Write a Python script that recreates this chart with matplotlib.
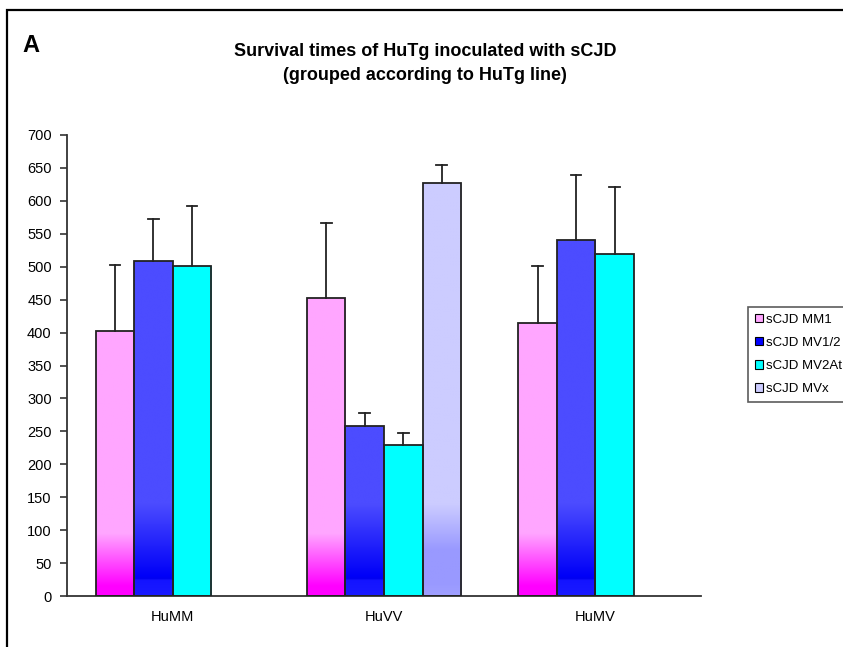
import numpy as np
import matplotlib
matplotlib.use("Agg")
import matplotlib.pyplot as plt
from matplotlib.patches import Rectangle, Patch
from matplotlib.colors import to_rgb

plt.rcParams['font.family'] = ['Liberation Sans', 'DejaVu Sans']

categories = ["HuMM", "HuVV", "HuMV"]
series = ["sCJD MM1", "sCJD MV1/2", "sCJD MV2At", "sCJD MVx"]
means = {
    "sCJD MM1":   [402, 452, 415],
    "sCJD MV1/2": [509, 258, 541],
    "sCJD MV2At": [501, 229, 520],
    "sCJD MVx":   [None, 627, None],
}
err_tops = {
    "sCJD MM1":   [502, 566, 501],
    "sCJD MV1/2": [572, 278, 640],
    "sCJD MV2At": [592, 247, 621],
    "sCJD MVx":   [None, 654, None],
}
yticks = list(range(0, 701, 50))

# vertical gradient stops (value, color), from top to bottom
grad = {
    "sCJD MM1":   [(700, "#FFA6FF"), (95, "#FFA6FF"), (15, "#FF00FF"), (0, "#FF00FF")],
    "sCJD MV1/2": [(700, "#4C4CFF"), (140, "#4C4CFF"), (30, "#0000F8"), (26, "#0000F0"), (24, "#1414FF"), (0, "#1A1AFF")],
    "sCJD MV2At": [(700, "#00FFFF"), (0, "#00FFFF")],
    "sCJD MVx":   [(700, "#CCCCFF"), (140, "#CCCCFF"), (70, "#9999FF"), (20, "#9999FF"), (0, "#A0A0FF")],
}
legend_colors = {"sCJD MM1": "#FFA6FF", "sCJD MV1/2": "#0000FF", "sCJD MV2At": "#00FFFF", "sCJD MVx": "#CCCCFF"}

fig = plt.figure(figsize=(8.43, 6.47), dpi=100)
ax = fig.add_axes([67/843, 1-596/647, (701-67)/843, (596-135)/647])

w = 38.5/211.3
offsets = (np.arange(4) - 1.5) * w
x = np.arange(len(categories))

def grad_image(stops):
    vals = np.linspace(0, 700, 1401)
    sv = [s[0] for s in stops][::-1]
    cols = np.array([to_rgb(s[1]) for s in stops][::-1])
    img = np.zeros((len(vals), 1, 3))
    for c in range(3):
        img[:, 0, c] = np.interp(vals, sv, cols[:, c])
    return img

for i, s in enumerate(series):
    img = grad_image(grad[s])
    for j, cat in enumerate(categories):
        v = means[s][j]
        if v is None:
            continue
        xc = x[j] + offsets[i]
        bar = ax.bar(xc, v, width=w, facecolor="none", edgecolor="#222222", linewidth=1.3, zorder=3)[0]
        im = ax.imshow(img, extent=[xc - w/2, xc + w/2, 0, 700], origin="lower",
                       aspect="auto", zorder=2, interpolation="bilinear")
        im.set_clip_path(bar)
        et = err_tops[s][j]
        ax.plot([xc, xc], [v, et], color="#222222", lw=1.3, zorder=4)
        ax.plot([xc - 0.025, xc + 0.025], [et, et], color="#222222", lw=1.3, zorder=4)

ax.set_xlim(-0.5, 2.5)
ax.set_ylim(0, 700)
ax.set_yticks(yticks)
ax.set_yticklabels([str(t) for t in yticks], fontsize=10.5)
ax.set_xticks(x)
ax.set_xticklabels(categories, fontsize=10.5)
ax.tick_params(axis='x', length=0, pad=10)
ax.tick_params(axis='y', length=5, width=1.2, color="#333333", pad=6)
for sp in ["top", "right"]:
    ax.spines[sp].set_visible(False)
for sp in ["left", "bottom"]:
    ax.spines[sp].set_color("#333333")
    ax.spines[sp].set_linewidth(1.3)

handles = [Patch(facecolor=legend_colors[s], edgecolor="black", linewidth=0.8) for s in series]
leg = fig.legend(handles, series, loc="upper left", bbox_to_anchor=(748/843, 1-307/647),
                 fontsize=9.5, frameon=True, fancybox=False, handlelength=0.6, handleheight=0.6,
                 handletextpad=0.3, borderpad=0.5, labelspacing=0.85, borderaxespad=0)
leg.get_frame().set_edgecolor("#333333")
leg.get_frame().set_linewidth(1.2)

fig.text(425/843, 1-51/647, "Survival times of HuTg inoculated with sCJD", ha="center", va="center",
         fontsize=13, fontweight="bold")
fig.text(425/843, 1-76/647, "(grouped according to HuTg line)", ha="center", va="center",
         fontsize=13, fontweight="bold")
fig.text(22/843, 1-45/647, "A", ha="left", va="center", fontsize=17, fontweight="bold")

fig.add_artist(Rectangle((6.5/843, -0.1), 1.2, 1 - 10/647 + 0.1, transform=fig.transFigure,
                         fill=False, edgecolor="black", linewidth=1.6))

fig.savefig("out.png", dpi=100)
